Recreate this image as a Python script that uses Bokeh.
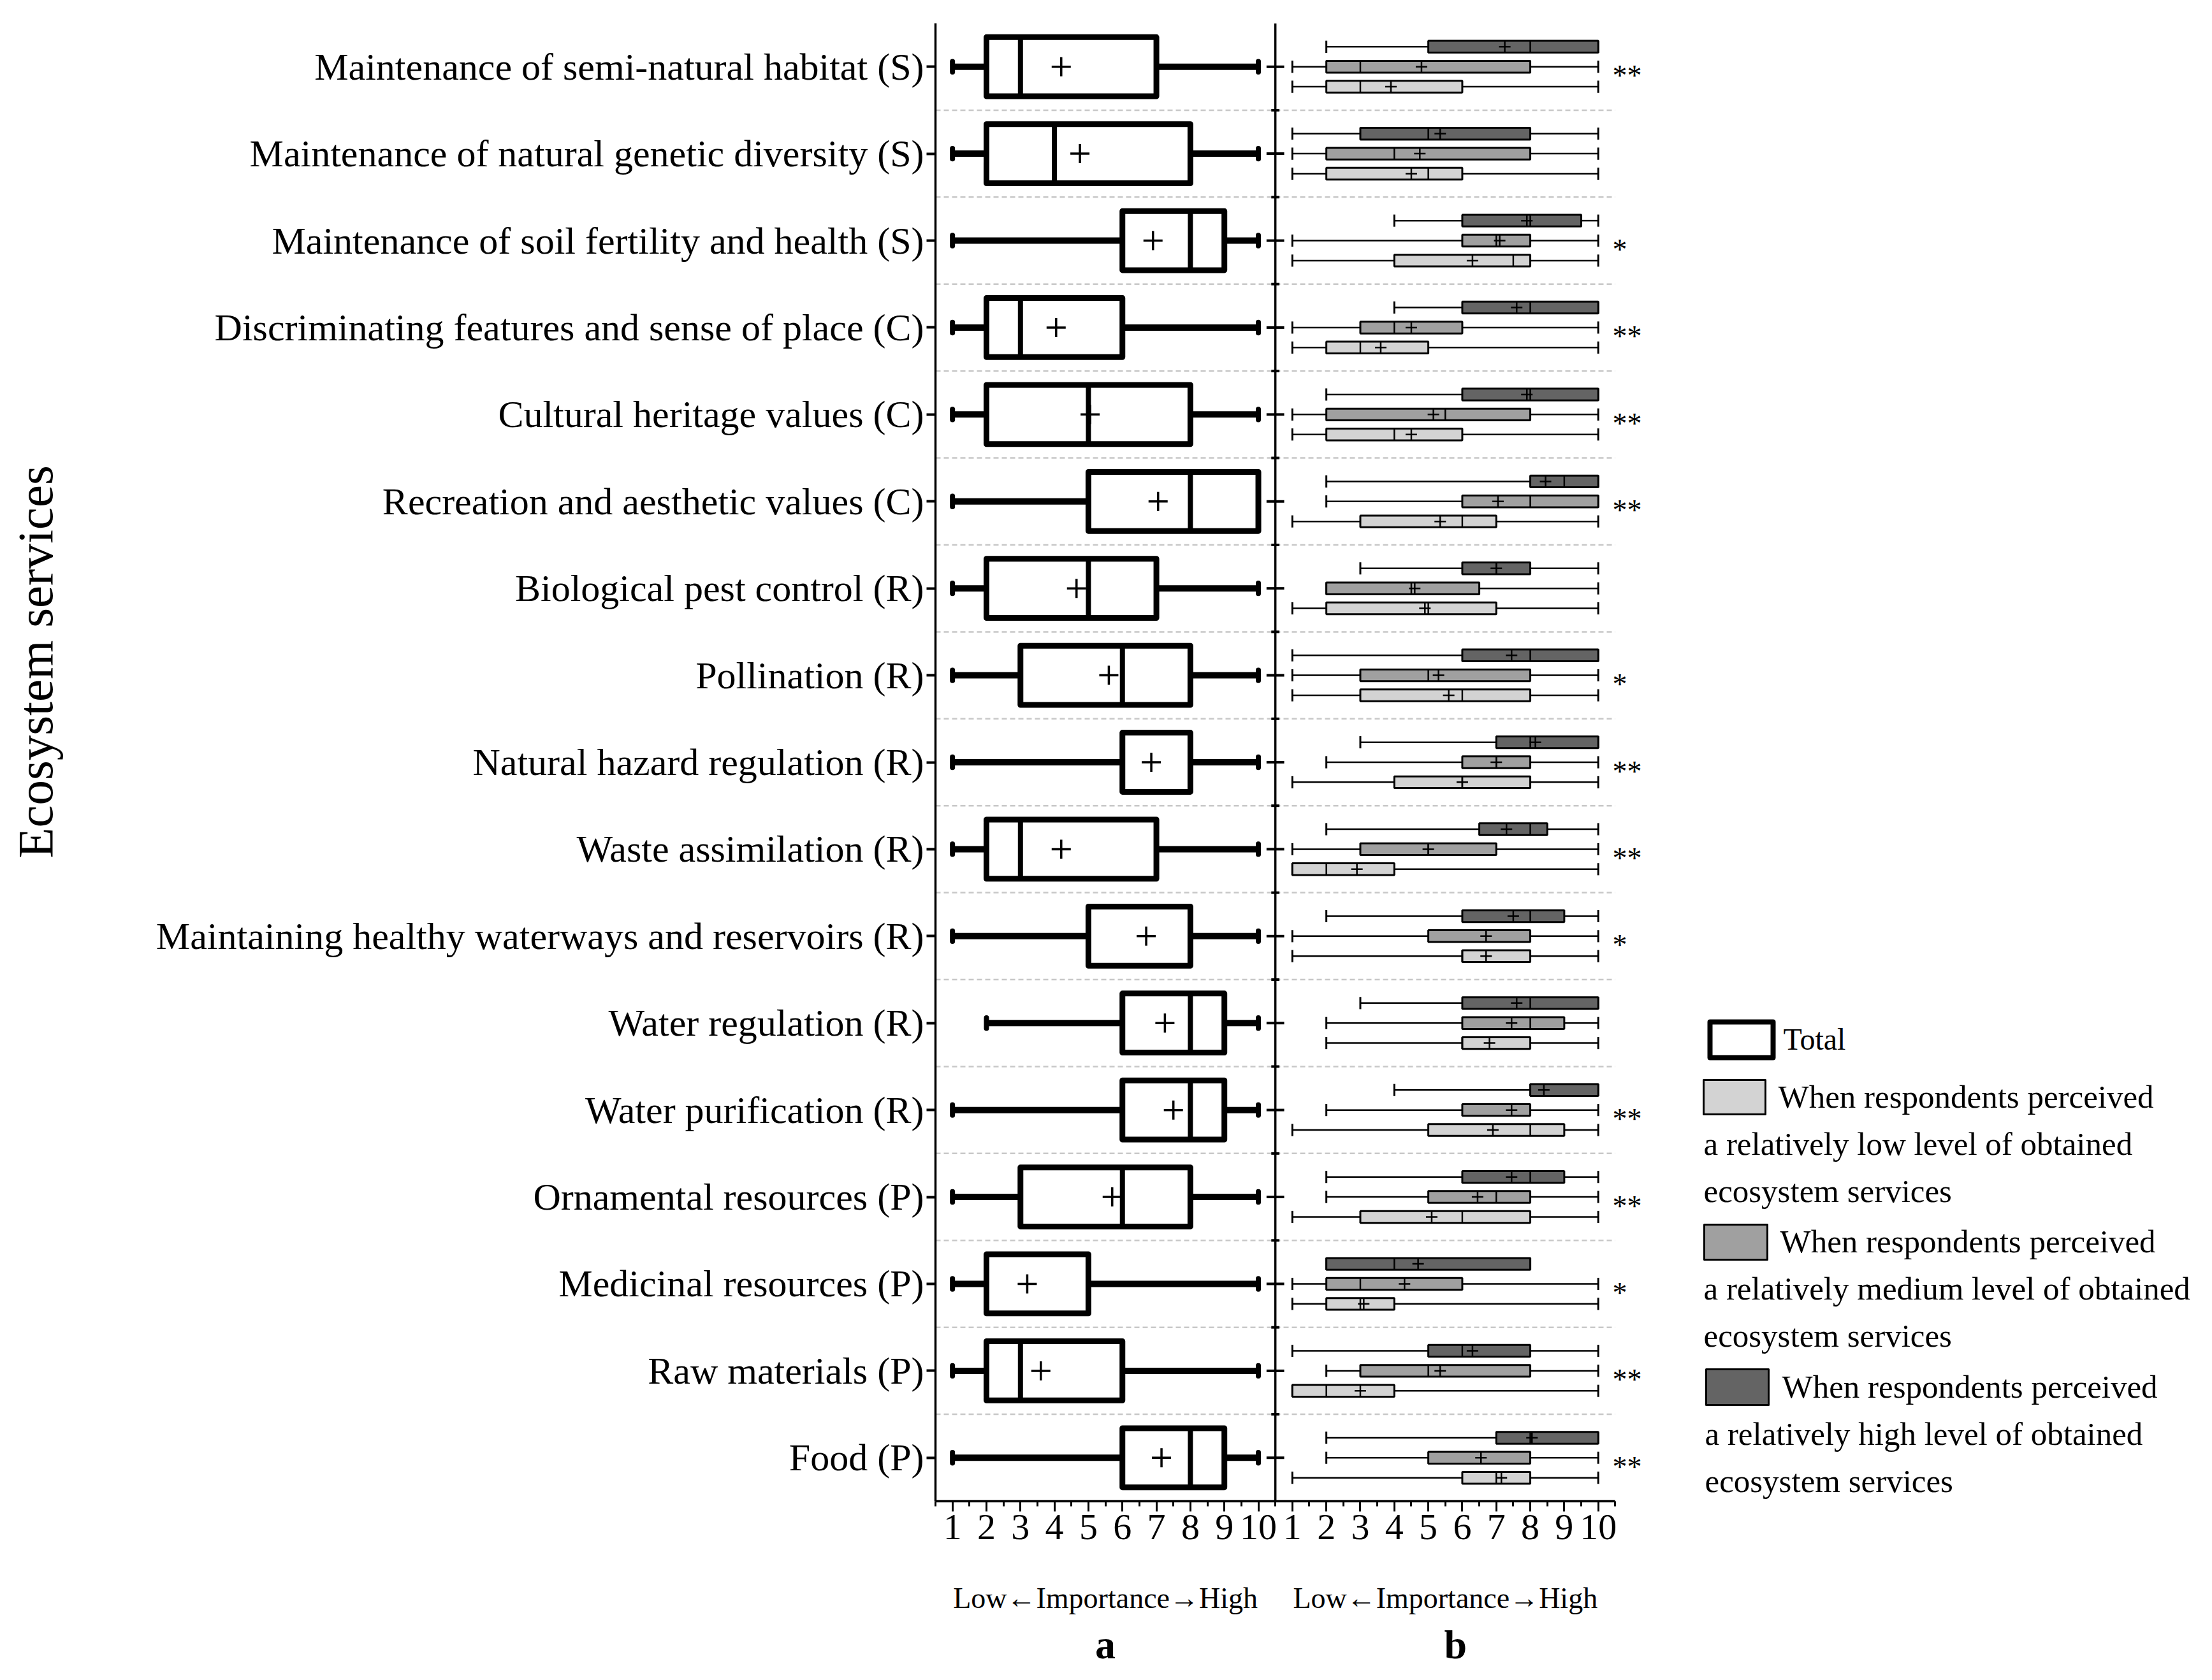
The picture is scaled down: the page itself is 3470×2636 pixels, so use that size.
import math
from bokeh.plotting import figure
from bokeh.models import Range1d, FactorRange, LinearAxis, FixedTicker, ColumnDataSource, Span
from bokeh.transform import dodge
from bokeh.layouts import row
from bokeh.core.properties import value
from bokeh.embed import file_html
from bokeh.resources import INLINE

FONT = "Liberation Serif"

# ---------------- data ----------------
categories = [
    "Maintenance of semi-natural habitat (S)",
    "Maintenance of natural genetic diversity (S)",
    "Maintenance of soil fertility and health (S)",
    "Discriminating features and sense of place (C)",
    "Cultural heritage values (C)",
    "Recreation and aesthetic values (C)",
    "Biological pest control (R)",
    "Pollination (R)",
    "Natural hazard regulation (R)",
    "Waste assimilation (R)",
    "Maintaining healthy waterways and reservoirs (R)",
    "Water regulation (R)",
    "Water purification (R)",
    "Ornamental resources (P)",
    "Medicinal resources (P)",
    "Raw materials (P)",
    "Food (P)",
]

# (a) Total
total_min = [1, 1, 1, 1, 1, 1, 1, 1, 1, 1, 1, 2, 1, 1, 1, 1, 1]
total_q1 = [2, 2, 6, 2, 2, 5, 2, 3, 6, 2, 5, 6, 6, 3, 2, 2, 6]
total_med = [3, 4, 8, 3, 5, 8, 5, 6, 8, 3, 8, 8, 8, 6, 2, 3, 8]
total_q3 = [7, 8, 9, 6, 8, 10, 7, 8, 8, 7, 8, 9, 9, 8, 5, 6, 9]
total_max = [10, 10, 10, 10, 10, 10, 10, 10, 10, 10, 10, 10, 10, 10, 10, 10, 10]
total_mean = [4.2, 4.75, 6.9, 4.05, 5.05, 7.05, 4.65, 5.6, 6.85, 4.2, 6.7, 7.25, 7.5, 5.7, 3.2, 3.6, 7.15]

# (b) relatively low level of obtained ES
low_min = [1, 1, 1, 1, 1, 1, 1, 1, 1, 1, 1, 2, 1, 1, 1, 1, 1]
low_q1 = [2, 2, 4, 2, 2, 3, 2, 3, 4, 1, 6, 6, 5, 3, 2, 1, 6]
low_med = [3, 5, 7.5, 3, 4, 6, 5, 6, 6, 2, 6, 6, 8, 6, 3, 2, 7]
low_q3 = [6, 6, 8, 5, 6, 7, 7, 8, 8, 4, 8, 8, 9, 8, 4, 4, 8]
low_max = [10, 10, 10, 10, 10, 10, 10, 10, 10, 10, 10, 10, 10, 10, 10, 10, 10]
low_mean = [3.9, 4.5, 6.3, 3.6, 4.5, 5.35, 4.9, 5.6, 6.0, 2.9, 6.7, 6.8, 6.9, 5.1, 3.1, 3.0, 7.15]

# (b) relatively medium level
med_min = [1, 1, 1, 1, 1, 2, 2, 1, 2, 1, 1, 2, 2, 2, 1, 2, 2]
med_q1 = [2, 2, 6, 3, 2, 6, 2, 3, 6, 3, 5, 6, 6, 5, 2, 3, 5]
med_med = [3, 4, 7, 4, 5.5, 8, 4.5, 5, 7, 5, 8, 8, 8, 7, 3, 5, 8]
med_q3 = [8, 8, 8, 6, 8, 10, 6.5, 8, 8, 7, 8, 9, 8, 8, 6, 8, 8]
med_max = [10, 10, 10, 10, 10, 10, 10, 10, 10, 10, 10, 10, 10, 10, 10, 10, 10]
med_mean = [4.8, 4.75, 7.1, 4.5, 5.15, 7.05, 4.6, 5.3, 7.0, 5.0, 6.7, 7.45, 7.45, 6.45, 4.3, 5.35, 6.55]

# (b) relatively high level
high_min = [2, 1, 4, 4, 2, 2, 3, 1, 3, 2, 2, 3, 4, 2, 2, 1, 2]
high_q1 = [5, 3, 6, 6, 6, 8, 6, 6, 7, 6.5, 6, 6, 8, 6, 2, 5, 7]
high_med = [8, 5, 8, 8, 8, 9, 7, 8, 8, 8, 8, 8, 8, 8, 4, 6, 8]
high_q3 = [10, 8, 9.5, 10, 10, 10, 8, 10, 10, 8.5, 9, 10, 10, 9, 8, 8, 10]
high_max = [10, 10, 10, 10, 10, 10, 10, 10, 10, 10, 10, 10, 10, 10, 8, 10, 10]
high_mean = [7.25, 5.35, 7.9, 7.6, 7.9, 8.45, 7.0, 7.45, 8.15, 7.3, 7.5, 7.6, 8.4, 7.45, 4.7, 6.3, 8.05]

significance = ["**", "", "*", "**", "**", "**", "", "*", "**", "**", "*", "", "**", "**", "*", "**", "**"]

tick_labels = ["1", "2", "3", "4", "5", "6", "7", "8", "9", "10"]
axis_sub_label = "Low\u2190Importance\u2192High"
panel_letters = ["a", "b"]
y_title = "Ecosystem services"

legend_lines = [
    ["Total"],
    ["When respondents perceived", "a relatively low level of obtained", "ecosystem services"],
    ["When respondents perceived", "a relatively medium level of obtained", "ecosystem services"],
    ["When respondents perceived", "a relatively high level of obtained", "ecosystem services"],
]

# ---------------- style / layout ----------------
C_LOW, C_MED, C_HIGH = "#d3d3d3", "#a0a0a0", "#646464"
H = 2620
TITLE_W, MAIN_W, LEG_W = 150, 2442, 862
B_TOP, B_BOTTOM = 36, 265
PAGE = 8
FRAME_TOP = PAGE + B_TOP
FRAME_BOTTOM = PAGE + H - B_BOTTOM

# ---------------- main figure ----------------
p = figure(width=MAIN_W, height=H,
           x_range=Range1d(0.5, 21.6),
           y_range=FactorRange(factors=categories[::-1]),
           x_axis_location=None,
           output_backend="svg", toolbar_location=None,
           min_border_left=1317, min_border_right=0,
           min_border_top=B_TOP, min_border_bottom=B_BOTTOM)
p.extra_x_ranges = {"b": Range1d(-9.5, 11.6)}
p.outline_line_color = None
p.grid.visible = False
p.background_fill_color = "white"
p.border_fill_color = "white"

yax = p.yaxis[0]
yax.axis_line_width = 3.5
yax.axis_line_color = "black"
yax.major_tick_out = 14
yax.major_tick_in = 0
yax.major_tick_line_width = 4
yax.major_tick_line_color = "black"
yax.minor_tick_line_color = None
yax.major_label_text_font = FONT
yax.major_label_text_font_size = "60px"
yax.major_label_text_color = "black"
yax.major_label_standoff = 4

overrides = {}
for i, lab in enumerate(tick_labels):
    overrides[i + 1] = lab
    overrides[i + 11] = lab
ax1 = LinearAxis(ticker=FixedTicker(ticks=list(range(1, 21)),
                                    minor_ticks=[i + 0.5 for i in range(0, 21)]),
                 bounds=(0.5, 20.5), major_label_overrides=overrides)
ax1.axis_line_width = 3.5
ax1.axis_line_color = "black"
ax1.major_tick_out = 16
ax1.major_tick_in = 0
ax1.minor_tick_out = 8
ax1.minor_tick_in = 0
ax1.major_tick_line_width = 3
ax1.minor_tick_line_width = 3
ax1.major_tick_line_color = "black"
ax1.minor_tick_line_color = "black"
ax1.major_label_text_font = FONT
ax1.major_label_text_font_size = "58px"
ax1.major_label_text_color = "black"
ax1.major_label_standoff = 5
p.add_layout(ax1, "below")

ax2 = LinearAxis(ticker=FixedTicker(ticks=[5.5, 15.5]),
                 major_label_overrides={5.5: axis_sub_label, 15.5: axis_sub_label})
ax2.axis_line_color = None
ax2.major_tick_line_color = None
ax2.minor_tick_line_color = None
ax2.major_tick_out = 0
ax2.major_tick_in = 0
ax2.major_label_text_font = FONT
ax2.major_label_text_font_size = "46px"
ax2.major_label_text_color = "black"
ax2.major_label_standoff = 64
p.add_layout(ax2, "below")

ax3 = LinearAxis(ticker=FixedTicker(ticks=[5.5, 15.8]),
                 major_label_overrides={5.5: panel_letters[0], 15.8: panel_letters[1]})
ax3.axis_line_color = None
ax3.major_tick_line_color = None
ax3.minor_tick_line_color = None
ax3.major_tick_out = 0
ax3.major_tick_in = 0
ax3.major_label_text_font = FONT
ax3.major_label_text_font_size = "64px"
ax3.major_label_text_font_style = "bold"
ax3.major_label_text_color = "black"
ax3.major_label_standoff = 9
p.add_layout(ax3, "below")

# separators between categories
sep_src = ColumnDataSource(dict(cat=categories[:-1]))
p.segment(x0=0.5, x1=20.5,
          y0=dodge("cat", -0.5, range=p.y_range), y1=dodge("cat", -0.5, range=p.y_range),
          source=sep_src, line_color="#c8c8c8", line_width=2.5, line_dash="8 5")

# panel b vertical axis with ticks on both sides
p.add_layout(Span(location=10.5, dimension="height", line_color="black", line_width=3.5))
tick_src = ColumnDataSource(dict(cat=categories))
p.segment(x0=10.5 - 0.26, x1=10.5 + 0.26, y0="cat", y1="cat", source=tick_src,
          line_color="black", line_width=4)
p.segment(x0=10.5 - 0.12, x1=10.5 + 0.12,
          y0=dodge("cat", -0.5, range=p.y_range), y1=dodge("cat", -0.5, range=p.y_range),
          source=sep_src, line_color="black", line_width=4)


def src(mn, q1, md, q3, mx, mean):
    return ColumnDataSource(dict(cat=categories, mn=mn, q1=q1, md=md, q3=q3, mx=mx, mean=mean))


# ---- panel a: total ----
ts = src(total_min, total_q1, total_med, total_q3, total_max, total_mean)
p.segment(x0="mn", x1="q1", y0="cat", y1="cat", source=ts, line_color="black", line_width=10)
p.segment(x0="q3", x1="mx", y0="cat", y1="cat", source=ts, line_color="black", line_width=10)
for f in ("mn", "mx"):
    p.segment(x0=f, x1=f, y0=dodge("cat", -0.06, range=p.y_range),
              y1=dodge("cat", 0.06, range=p.y_range), source=ts,
              line_color="black", line_width=8, line_cap="round")
p.hbar(y="cat", left="q1", right="q3", height=0.68, source=ts,
       fill_color="white", line_color="black", line_width=9, line_join="round")
p.segment(x0="md", x1="md", y0=dodge("cat", -0.34, range=p.y_range),
          y1=dodge("cat", 0.34, range=p.y_range), source=ts, line_color="black", line_width=8)
p.scatter(x="mean", y="cat", source=ts, marker="cross", size=30, line_width=3.5, line_color="black")

# ---- panel b: three groups ----
groups = [
    (src(high_min, high_q1, high_med, high_q3, high_max, high_mean), C_HIGH, 0.23),
    (src(med_min, med_q1, med_med, med_q3, med_max, med_mean), C_MED, 0.0),
    (src(low_min, low_q1, low_med, low_q3, low_max, low_mean), C_LOW, -0.23),
]
BH = 0.135
for gs, col, off in groups:
    yc = dodge("cat", off, range=p.y_range)
    p.segment(x0="mn", x1="q1", y0=yc, y1=yc, source=gs, line_color="black",
              line_width=2.5, x_range_name="b")
    p.segment(x0="q3", x1="mx", y0=yc, y1=yc, source=gs, line_color="black",
              line_width=2.5, x_range_name="b")
    for f in ("mn", "mx"):
        p.segment(x0=f, x1=f, y0=dodge("cat", off - 0.07, range=p.y_range),
                  y1=dodge("cat", off + 0.07, range=p.y_range), source=gs,
                  line_color="black", line_width=3, x_range_name="b")
    p.hbar(y=yc, left="q1", right="q3", height=BH, source=gs, fill_color=col,
           line_color="black", line_width=3, x_range_name="b")
    p.segment(x0="md", x1="md", y0=dodge("cat", off - BH / 2, range=p.y_range),
              y1=dodge("cat", off + BH / 2, range=p.y_range), source=gs,
              line_color="black", line_width=2.5, x_range_name="b")
    p.scatter(x="mean", y=yc, source=gs, marker="cross", size=18, line_width=2.5,
              line_color="black", x_range_name="b")

sig_src = ColumnDataSource(dict(cat=categories, sig=significance))
p.text(x=10.42, y="cat", text="sig", source=sig_src, x_range_name="b",
       text_font=value(FONT), text_font_size="46px", text_align="left",
       text_baseline="middle", text_color="black", y_offset=14)

# ---------------- y title figure (page coordinates) ----------------
tf = figure(width=TITLE_W, height=H, x_range=Range1d(PAGE, PAGE + TITLE_W),
            y_range=Range1d(FRAME_BOTTOM, FRAME_TOP),
            x_axis_location=None, y_axis_location=None, output_backend="svg",
            toolbar_location=None, min_border_left=0, min_border_right=0,
            min_border_top=B_TOP, min_border_bottom=B_BOTTOM)
tf.outline_line_color = None
tf.grid.visible = False
tf.text(x=[63], y=[1046], text=[y_title], angle=math.pi / 2,
        text_font=value(FONT), text_font_size="79px", text_align="center",
        text_baseline="middle", text_color="black")

# ---------------- legend figure (page coordinates) ----------------
LEG_X0 = PAGE + TITLE_W + MAIN_W
lg = figure(width=LEG_W, height=H, x_range=Range1d(LEG_X0, LEG_X0 + LEG_W),
            y_range=Range1d(FRAME_BOTTOM, FRAME_TOP),
            x_axis_location=None, y_axis_location=None, output_backend="svg",
            toolbar_location=None, min_border_left=0, min_border_right=0,
            min_border_top=B_TOP, min_border_bottom=B_BOTTOM)
lg.outline_line_color = None
lg.grid.visible = False

DY = 7
sw_left = [2690, 2680, 2681, 2684]
sw_right = [2789, 2777, 2780, 2782]
sw_top = [1604 + DY, 1695 + DY, 1922 + DY, 2149 + DY]
sw_bottom = [1660 + DY, 1749 + DY, 1977 + DY, 2205 + DY]
sw_lw = [8, 3, 3, 3]
sw_fill = ["white", C_LOW, C_MED, C_HIGH]
first_x = [2805, 2797, 2800, 2803]
first_y = [1631 + DY, 1721 + DY, 1948 + DY, 2176 + DY]
rest_x = [2680, 2680, 2680, 2682]
LINE_H = 74

for i, lines in enumerate(legend_lines):
    lg.quad(left=[sw_left[i]], right=[sw_right[i]], top=[sw_top[i]], bottom=[sw_bottom[i]],
            fill_color=sw_fill[i], line_color="black", line_width=sw_lw[i], line_join="round")
    xs = [first_x[i]] + [rest_x[i]] * (len(lines) - 1)
    ys = [first_y[i] + k * LINE_H for k in range(len(lines))]
    lg.text(x=xs, y=ys, text=lines, text_font=value(FONT),
            text_font_size="48px" if i == 0 else "51px",
            text_align="left", text_baseline="middle", text_color="black")

layout = row(tf, p, lg)
open("out.html", "w").write(file_html(layout, INLINE))
